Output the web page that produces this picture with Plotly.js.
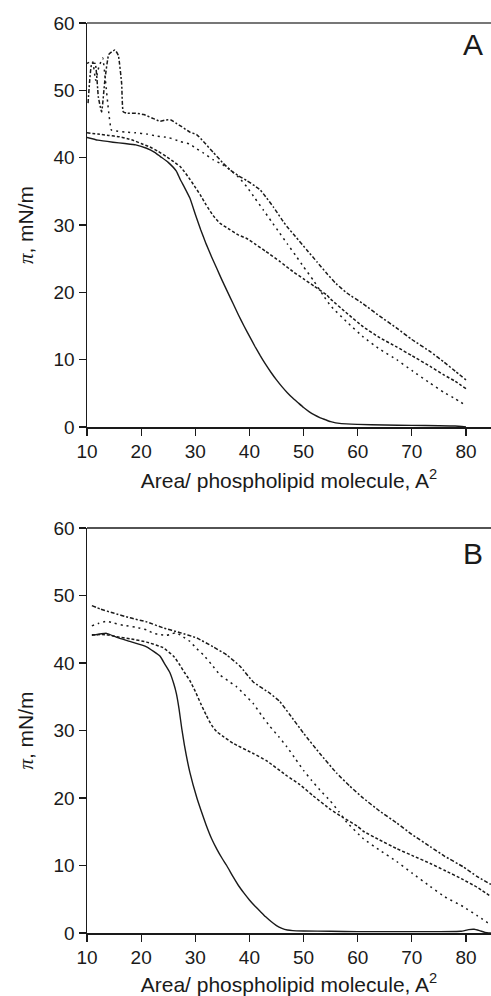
<!DOCTYPE html>
<html><head><meta charset="utf-8">
<script src="https://cdn.plot.ly/plotly-3.0.1.min.js"></script>
<style>html,body{margin:0;padding:0;background:#fff}#chart{width:491px;height:996px}</style>
</head><body><div id="chart"></div>
<script>
// ---------- Panel A ----------
const aSolidX = [10, 12, 14.8, 17, 19, 21, 22.5, 23.5, 25, 26.5, 27.2, 28, 29, 30, 31, 32, 33, 34, 35, 36, 37, 38, 39, 40, 41, 42, 43, 44, 45, 46, 47, 48, 49, 50, 51, 52, 53, 54, 55, 57, 60, 65, 70, 75, 78, 80];
const aSolidY = [43.0, 42.6, 42.3, 42.1, 41.9, 41.4, 40.8, 40.2, 39.3, 38.0, 36.8, 35.6, 34.0, 31.6, 29.3, 27.2, 25.3, 23.5, 21.7, 20.0, 18.3, 16.6, 15.0, 13.5, 12.0, 10.6, 9.3, 8.1, 7.0, 6.0, 5.1, 4.3, 3.6, 2.9, 2.3, 1.8, 1.4, 1.1, 0.8, 0.5, 0.4, 0.3, 0.25, 0.2, 0.15, 0.0];

const aDashX = [10, 12, 14, 16, 17.5, 18.5, 20, 21.6, 23, 24.8, 26, 27.2, 28, 29, 30, 30.9, 32, 33.3, 34.5, 36.4, 38, 39.5, 41, 43, 45.6, 48, 50, 52, 54.3, 55, 58, 61, 64, 67.2, 70, 73.4, 76, 78, 80];
const aDashY = [43.7, 43.5, 43.3, 43.1, 42.8, 42.6, 42.1, 41.6, 41.0, 40.1, 39.4, 38.7, 37.9, 36.8, 35.6, 34.5, 33.0, 31.4, 30.3, 29.3, 28.5, 28.0, 27.2, 26.1, 24.6, 23.1, 22.0, 20.9, 19.6, 19.0, 16.9, 14.9, 13.3, 11.9, 10.6, 9.0, 7.7, 6.8, 5.7];

const aDotX = [10, 11.0, 11.6, 12.2, 12.9, 13.4, 14.0, 14.5, 15, 17, 19, 21, 23, 25, 27.2, 29, 30.3, 31.5, 33.3, 35, 36.4, 38, 39.5, 41, 42.6, 44, 45.6, 47, 48.7, 50, 51.8, 53.6, 55, 58, 61, 64, 67.2, 70, 73.4, 76, 78, 80];
const aDotY = [54.0, 54.3, 51.5, 53.5, 54.8, 51.5, 46.8, 44.1, 44.0, 43.8, 43.7, 43.5, 43.2, 43.0, 42.4, 42.0, 41.3, 40.7, 39.7, 39.0, 38.2, 37.1, 35.7, 34.0, 32.2, 30.6, 28.8, 27.2, 25.3, 23.8, 21.8, 19.6, 18.0, 15.6, 13.4, 11.6, 10.0, 8.4, 6.5, 5.1, 4.2, 3.2];

const aDashDotX = [10.2, 10.9, 11.5, 12.1, 12.7, 13.3, 14.0, 14.55, 15.17, 15.78, 16.4, 16.7, 17.5, 19, 20.5, 22, 23.5, 24.5, 25.5, 26.5, 27.5, 29, 30.3, 31.5, 33.3, 35, 36.4, 38, 39.5, 41, 42, 43, 44.4, 46, 47, 48.5, 50.6, 52.5, 54.3, 56, 58, 61, 64, 67.2, 70, 73.4, 76, 78, 80];
const aDashDotY = [48.1, 54.0, 54.0, 49.0, 46.8, 51.5, 55.3, 55.7, 56.0, 55.2, 51.0, 46.8, 46.6, 46.6, 46.4, 45.9, 45.4, 45.6, 45.6, 45.1, 44.6, 43.8, 43.4, 42.4, 40.8, 39.3, 38.2, 37.3, 36.6, 35.8, 35.2, 34.2, 32.7, 30.8, 29.7, 28.3, 26.3, 24.5, 22.8, 21.3, 19.9, 18.3, 16.5, 14.7, 13.0, 11.2, 9.6, 8.3, 7.0];

// ---------- Panel B ----------
const bSolidX = [10.9, 13.6, 15.5, 17.9, 21, 23.5, 24.4, 25.3, 26, 26.5, 27, 27.5, 28, 29, 30.3, 31, 32, 33, 34, 35, 35.8, 37, 38, 39, 40, 41, 42, 43, 44, 45, 46, 47, 48, 50, 55, 60, 65, 70, 75, 79, 80.5, 81.5, 82.5, 83.5, 84.6];
const bSolidY = [44.1, 44.4, 43.8, 43.2, 42.4, 41.0, 39.8, 38.6, 37.0, 35.5, 33.2, 30.3, 27.8, 23.8, 20.0, 18.3, 16.0, 14.0, 12.4, 11.0, 10.0, 8.3, 7.0, 5.9, 4.9, 4.0, 3.2, 2.4, 1.7, 1.1, 0.7, 0.45, 0.35, 0.3, 0.25, 0.2, 0.2, 0.2, 0.2, 0.25, 0.5, 0.55, 0.35, 0.1, 0.0];

const bDashX = [10.9, 13.6, 15.5, 17.9, 21, 24, 26, 27, 28, 29, 30, 31, 32, 33, 34, 35, 37, 40.7, 43.2, 46.9, 49.3, 51.8, 55, 57.3, 60, 61, 64, 67.2, 70, 73.4, 76, 79.5, 82, 84.6];
const bDashY = [44.2, 44.2, 43.9, 43.6, 43.1, 42.3, 41.0, 39.9, 38.6, 37.4, 35.8, 34.0, 32.3, 30.8, 29.8, 29.2, 28.1, 26.6, 25.5, 23.3, 22.0, 20.3, 18.3, 17.1, 15.8, 15.1, 13.8, 12.5, 11.5, 10.3, 9.3, 7.9, 6.8, 5.4];

const bDotX = [10.9, 12.2, 13.6, 15, 16.7, 19, 21, 22.3, 23.5, 24.7, 25.6, 26.5, 27.5, 29, 30.3, 31.5, 33, 34.6, 36, 37.6, 39, 40.7, 42.2, 43.8, 45.4, 46.9, 48.5, 50, 51.5, 53, 54.9, 56.5, 58, 61, 64, 67.2, 70, 73.4, 76, 79.5, 82, 84.6];
const bDotY = [45.5, 45.9, 46.2, 45.9, 45.6, 45.3, 44.9, 44.4, 44.2, 44.1, 44.3, 44.5, 44.0, 43.2, 42.1, 41.2, 39.8, 38.2, 37.4, 36.5, 35.4, 34.0, 32.3, 30.6, 29.1, 27.6, 25.8, 24.1, 22.6, 21.2, 19.6, 18.0, 16.4, 14.0, 12.3, 10.6, 8.9, 6.9, 5.4, 3.9, 2.6, 1.2];

const bDashDotX = [10.9, 12.5, 14.9, 17.9, 21, 24.1, 27.2, 30.3, 33.3, 35.8, 38.3, 40.7, 43.8, 45.6, 47.5, 50, 53, 56.1, 58.5, 61, 64, 67.2, 70, 73.4, 76, 79.5, 82, 84.6];
const bDashDotY = [48.5, 48.0, 47.4, 46.7, 46.1, 45.2, 44.5, 43.7, 42.4, 41.2, 39.5, 37.2, 35.5, 34.3, 32.3, 29.6, 26.6, 23.7, 21.8, 20.0, 18.1, 16.3, 14.6, 12.8, 11.4, 9.8, 8.4, 7.2];

// ---------- Labels ----------
const xTicks = [10, 20, 30, 40, 50, 60, 70, 80];
const yTicks = [0, 10, 20, 30, 40, 50, 60];
const xTitle = 'Area/ phospholipid molecule, A<sup>2</sup>';
const yTitle = '<span style="font-family:\'Liberation Serif\';font-style:italic">π</span>, mN/m';
const panelLabels = ['A', 'B'];

const ink = '#1a1a1a';
const FONT = 'Liberation Sans, Arial, sans-serif';
const DASH = 'solid', FINE = '3px,2px', SPARSE = '2px,4px', DASHDOT = '4px,2px,2px,2px';

function tr(x, y, dash, xa, ya) {
  return {x: x, y: y, xaxis: xa, yaxis: ya, type: 'scatter', mode: 'lines',
    line: {color: ink, width: dash === 'solid' ? 1.4 : 1.5, dash: dash, shape: 'spline', smoothing: 0.4},
    hoverinfo: 'skip', showlegend: false};
}

const data = [
  tr(aSolidX, aSolidY, DASH, 'x', 'y'),
  tr(aDashX, aDashY, FINE, 'x', 'y'),
  tr(aDotX, aDotY, SPARSE, 'x', 'y'),
  tr(aDashDotX, aDashDotY, DASHDOT, 'x', 'y'),
  tr(bSolidX, bSolidY, DASH, 'x2', 'y2'),
  tr(bDashX, bDashY, FINE, 'x2', 'y2'),
  tr(bDotX, bDotY, SPARSE, 'x2', 'y2'),
  tr(bDashDotX, bDashDotY, DASHDOT, 'x2', 'y2')
];

function xax(anchor) {
  return {anchor: anchor, range: [10, 84.62], tickvals: xTicks, ticktext: xTicks.map(String),
    ticks: 'outside', ticklen: 7, tickwidth: 1.2, tickcolor: ink,
    showline: true, linecolor: ink, linewidth: 1.5, showgrid: false, zeroline: false,
    tickfont: {family: FONT, size: 19, color: ink},
    title: {text: xTitle, font: {family: FONT, size: 21, color: ink}, standoff: 12}};
}
function yax(anchor, domain) {
  return {anchor: anchor, domain: domain, range: [0, 60], tickvals: yTicks, ticktext: yTicks.map(String),
    ticks: 'outside', ticklen: 7, tickwidth: 1.2, tickcolor: ink,
    showline: true, linecolor: ink, linewidth: 1.5, showgrid: false, zeroline: false,
    tickfont: {family: FONT, size: 19, color: ink},
    title: {text: yTitle, font: {family: FONT, size: 21, color: ink}, standoff: 14}};
}

const layout = {
  width: 491, height: 996,
  margin: {l: 87, r: 0, t: 23, b: 63},
  paper_bgcolor: '#fff', plot_bgcolor: '#fff',
  xaxis: xax('y'), yaxis: yax('x', [0.556, 1]),
  xaxis2: xax('y2'), yaxis2: yax('x2', [0, 0.445]),
  shapes: [
    {type: 'line', xref: 'x domain', yref: 'y domain', x0: 0, x1: 1, y0: 1, y1: 1, line: {color: '#777', width: 2}},
    {type: 'line', xref: 'x2 domain', yref: 'y2 domain', x0: 0, x1: 1, y0: 1, y1: 1, line: {color: ink, width: 1.5}}
  ],
  annotations: [
    {text: panelLabels[0], xref: 'x domain', yref: 'y domain', x: 0.956, y: 0.946, xanchor: 'center', yanchor: 'middle', showarrow: false, font: {family: FONT, size: 30, color: ink}},
    {text: panelLabels[1], xref: 'x2 domain', yref: 'y2 domain', x: 0.956, y: 0.936, xanchor: 'center', yanchor: 'middle', showarrow: false, font: {family: FONT, size: 30, color: ink}}
  ]
};

Plotly.newPlot('chart', data, layout, {staticPlot: true, displayModeBar: false});
</script>
</body></html>
